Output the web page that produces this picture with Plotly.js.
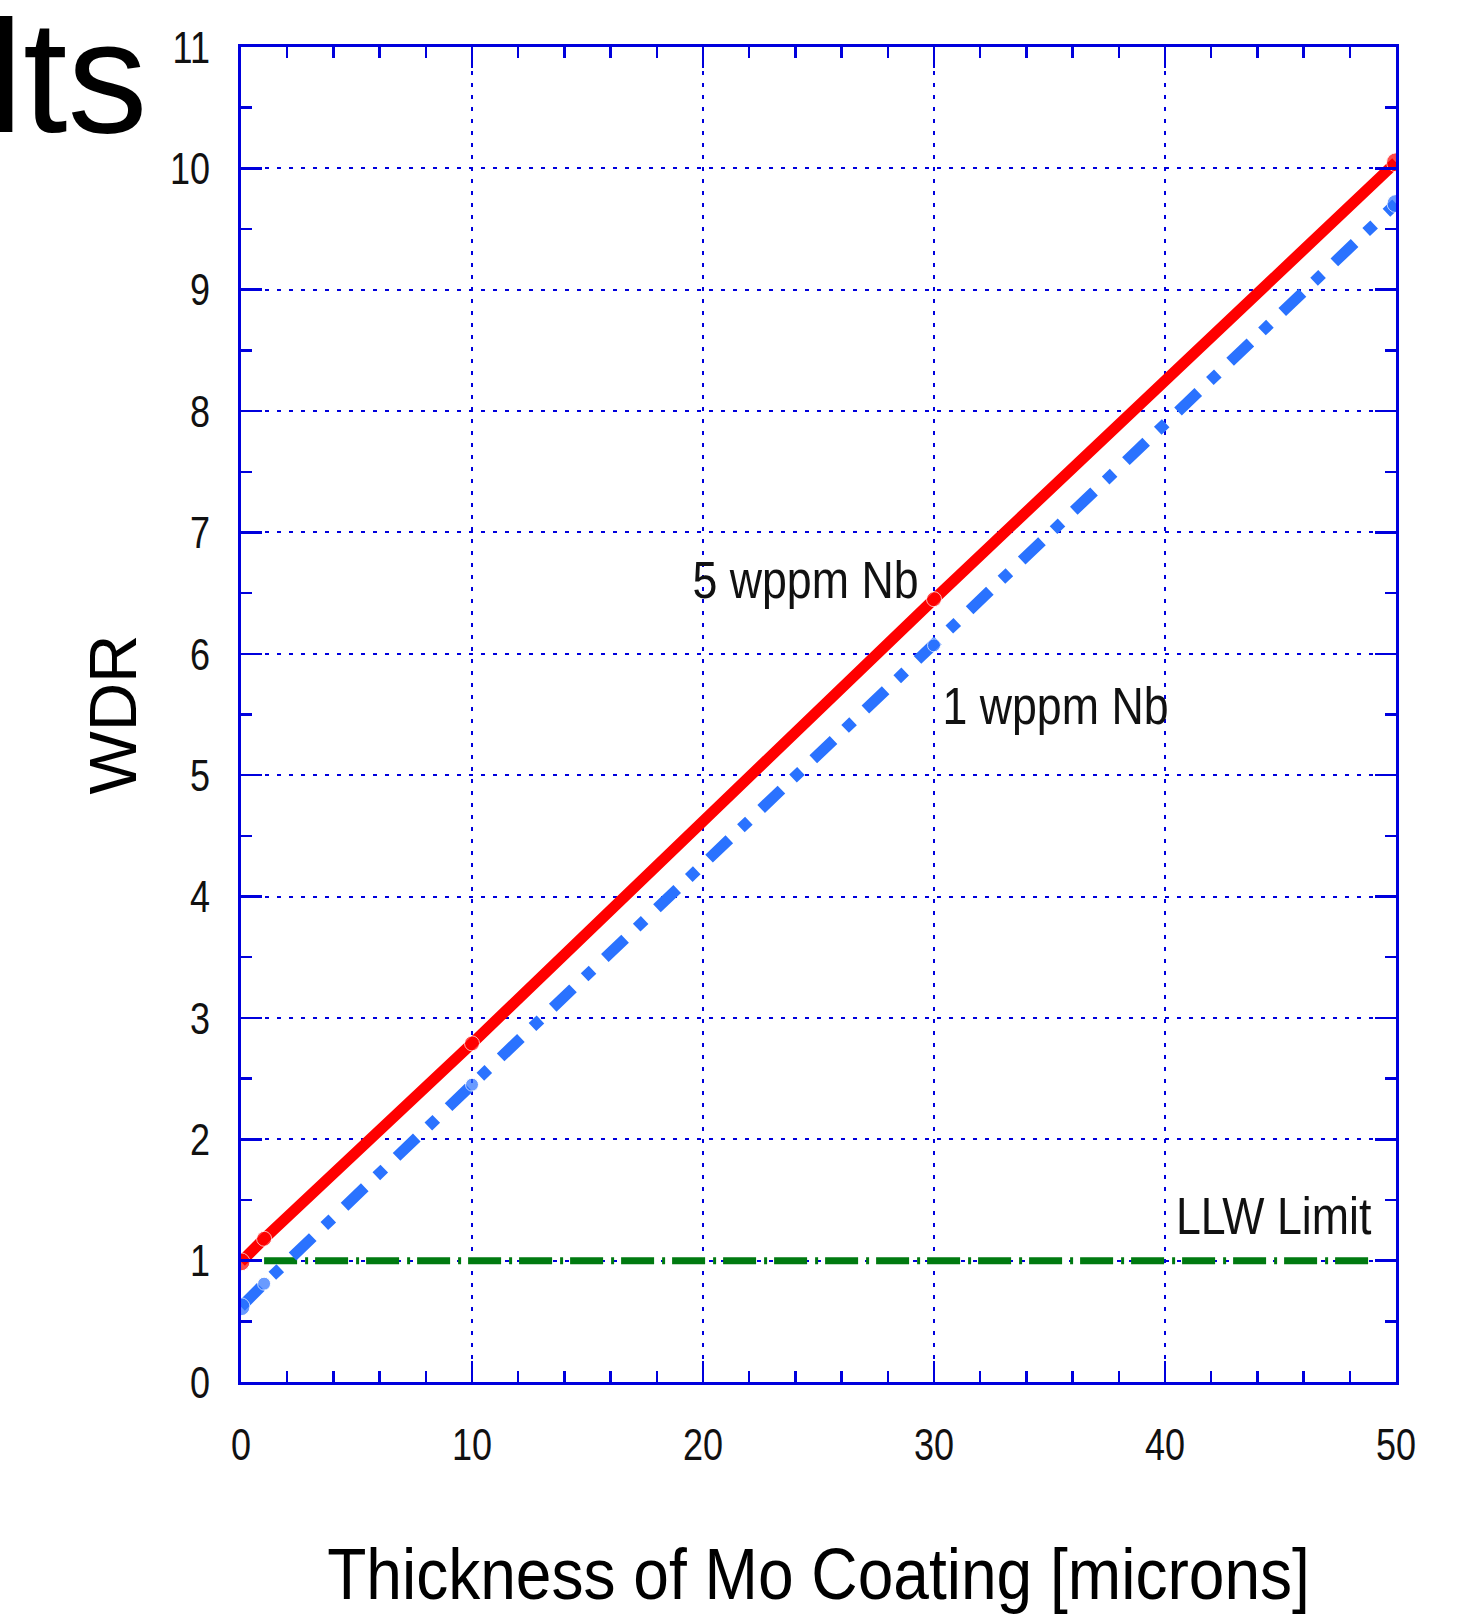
<!DOCTYPE html>
<html>
<head>
<meta charset="utf-8">
<script src="https://cdn.plot.ly/plotly-3.0.1.min.js"></script>
<style>html,body{margin:0;padding:0;background:#fff;}#chart{width:1460px;height:1614px;}</style>
</head>
<body>
<div id="chart"></div>
<script>
// Data
var thickness = [0, 1, 10, 30, 50];
var wdr5 = [0.99, 1.18, 2.79, 6.45, 10.05];
var wdr1 = [0.62, 0.81, 2.45, 6.07, 9.71];
var llwX = [1, 49];
var llwY = [1, 1];
var xTicks = [0, 10, 20, 30, 40, 50];
var yTicks = [0, 1, 2, 3, 4, 5, 6, 7, 8, 9, 10, 11];
var label5 = "5 wppm Nb";
var label1 = "1 wppm Nb";
var labelLLW = "LLW Limit";
var xTitle = "Thickness of Mo Coating [microns]";
var yTitle = "WDR";
var slideTitle = "Results";

var sans = "Liberation Sans, Arial, sans-serif";
var axisBlue = "#0000dd";

var traces = [
  {x: llwX, y: llwY, mode: "lines", line: {color: "#007a10", width: 7, dash: "33px,8px,3px,7px"}, hoverinfo: "skip"},
  {x: thickness, y: wdr1, mode: "lines+markers", line: {color: "#2a72ff", width: 11, dash: "28px,16px,11px,17px"},
   marker: {color: "#2a72ff", size: [18, 13, 13, 13, 18]}, hoverinfo: "skip"},
  {x: thickness, y: wdr5, mode: "lines+markers", line: {color: "#ff0000", width: 11},
   marker: {color: "#ff0000", size: [18, 15, 15, 15, 19]}, hoverinfo: "skip"}
];

var layout = {
  width: 1460, height: 1614,
  margin: {l: 241, r: 64, t: 47, b: 232},
  paper_bgcolor: "#fff", plot_bgcolor: "#fff",
  showlegend: false,
  xaxis: {
    range: [0, 50], tickvals: xTicks, ticktext: xTicks.map(String),
    showline: true, linecolor: axisBlue, linewidth: 3, mirror: "allticks",
    ticks: "inside", ticklen: 21, tickwidth: 2.5, tickcolor: axisBlue,
    showgrid: true, gridcolor: axisBlue, gridwidth: 2, griddash: "4px,8px",
    zeroline: false, ticklabelstandoff: 21,
    tickfont: {family: sans, size: 45, color: "#111"},
    minor: {dtick: 2, ticks: "inside", ticklen: 11, tickwidth: 2.5, tickcolor: axisBlue, showgrid: false},
    title: {text: xTitle, font: {family: sans, size: 72, color: "#000"}, standoff: 83}
  },
  yaxis: {
    range: [0, 11], tickvals: yTicks, ticktext: yTicks.map(String),
    showline: true, linecolor: axisBlue, linewidth: 3, mirror: "allticks",
    ticks: "inside", ticklen: 21, tickwidth: 2.5, tickcolor: axisBlue,
    showgrid: true, gridcolor: axisBlue, gridwidth: 2, griddash: "4px,8px",
    zeroline: false, ticklabelstandoff: 19,
    tickfont: {family: sans, size: 45, color: "#111"},
    minor: {dtick: 0.5, ticks: "inside", ticklen: 11, tickwidth: 2.5, tickcolor: axisBlue, showgrid: false},
    title: {text: yTitle, font: {family: sans, size: 67, color: "#000"}, standoff: 2}
  },
  annotations: [
    {x: 24.44, y: 6.61, xref: "x", yref: "y", text: label5, showarrow: false, xanchor: "center", yanchor: "middle",
     font: {family: sans, size: 52, color: "#111"}},
    {x: 35.28, y: 5.57, xref: "x", yref: "y", text: label1, showarrow: false, xanchor: "center", yanchor: "middle",
     font: {family: sans, size: 52, color: "#111"}},
    {x: 44.72, y: 1.37, xref: "x", yref: "y", text: labelLLW, showarrow: false, xanchor: "center", yanchor: "middle",
     font: {family: sans, size: 52, color: "#111"}},
    {x: -0.079, y: 0.978, xref: "paper", yref: "paper", text: slideTitle, showarrow: false, xanchor: "right", yanchor: "middle",
     font: {family: sans, size: 160, color: "#000"}}
  ]
};

// Horizontal condensing of text (the original uses a narrow sans font)
function squeeze(selector, s, skipText) {
  document.querySelectorAll(selector).forEach(function (el) {
    if (skipText && el.textContent === skipText) return;
    var bb = el.getBBox();
    var anchor = el.getAttribute("text-anchor") || "start";
    var cx = anchor === "middle" ? bb.x + bb.width / 2 : (anchor === "end" ? bb.x + bb.width : bb.x);
    var t = el.getAttribute("transform") || "";
    el.setAttribute("transform", t + " translate(" + cx + ",0) scale(" + s + ",1) translate(" + (-cx) + ",0)");
  });
}

Plotly.newPlot("chart", traces, layout, {staticPlot: true, displayModeBar: false}).then(function () {
  squeeze("#chart .xtick text", 0.8);
  squeeze("#chart .ytick text", 0.8);
  squeeze("#chart .g-xtitle text", 0.89);
  squeeze("#chart .annotation-text", 0.86, slideTitle);
});
</script>
</body>
</html>
